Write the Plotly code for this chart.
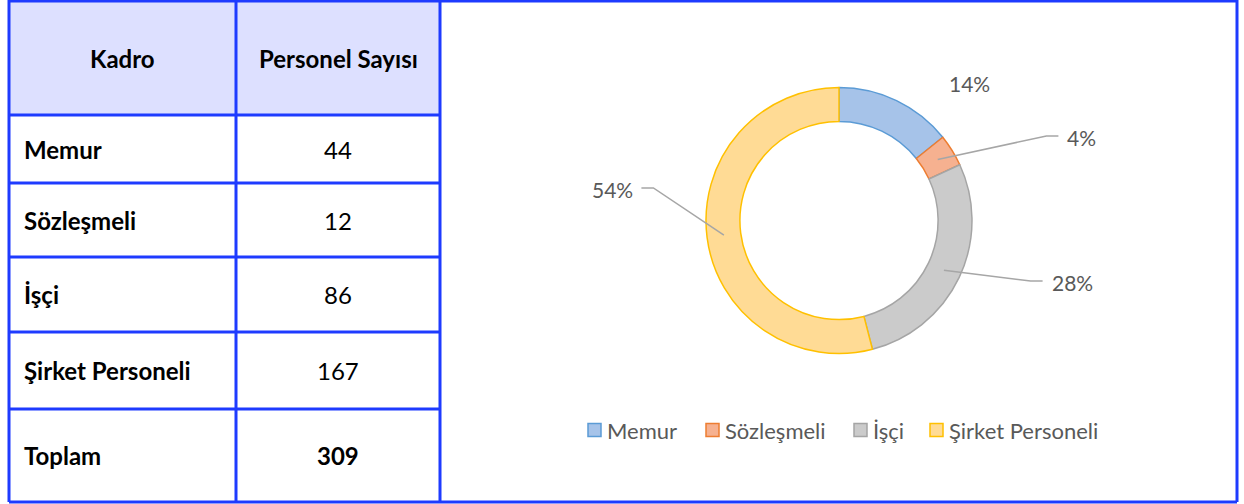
import math
import plotly.graph_objects as go

# ---- data ----
categories = ["Memur", "Sözleşmeli", "İşçi", "Şirket Personeli"]
counts = [44, 12, 86, 167]
header_labels = ["Kadro", "Personel Sayısı"]
total_label = "Toplam"

fill_colors = ["#A6C3E9", "#F6B190", "#CBCBCB", "#FFDB95"]
line_colors = ["#5B9BD5", "#ED7D31", "#A5A5A5", "#FFC000"]

W, H = 1244, 504
BLUE = "#1E3BFF"
FONT = "Lato"
GREY_TXT = "#595959"

fig = go.Figure()

# canvas axes in pixel units
fig.update_layout(
    width=W, height=H, margin=dict(l=0, r=0, t=0, b=0),
    paper_bgcolor="white", plot_bgcolor="white",
    xaxis=dict(range=[0, W], visible=False, fixedrange=True),
    yaxis=dict(range=[H, 0], visible=False, fixedrange=True),
    showlegend=False,
)

shapes = []
annotations = []

# ---- table ----
col_x = [9, 236, 440]
row_y = [1, 115, 183, 257, 332, 409, 502]

shapes.append(dict(type="rect", xref="x", yref="y", x0=col_x[0], x1=col_x[2],
                   y0=row_y[0], y1=row_y[1], fillcolor="#DDE0FF", line=dict(width=0), layer="below"))
for y in row_y[1:-1]:
    shapes.append(dict(type="line", xref="x", yref="y", x0=col_x[0], x1=col_x[2], y0=y, y1=y,
                       line=dict(color=BLUE, width=3)))
for x in col_x:
    shapes.append(dict(type="line", xref="x", yref="y", x0=x, x1=x, y0=0, y1=row_y[-1],
                       line=dict(color=BLUE, width=3)))
# outer frame
shapes.append(dict(type="line", xref="x", yref="y", x0=col_x[0], x1=1237, y0=1, y1=1,
                   line=dict(color=BLUE, width=3)))
shapes.append(dict(type="line", xref="x", yref="y", x0=col_x[0], x1=1237, y0=row_y[-1], y1=row_y[-1],
                   line=dict(color=BLUE, width=3)))
shapes.append(dict(type="line", xref="x", yref="y", x0=1237, x1=1237, y0=0, y1=row_y[-1],
                   line=dict(color=BLUE, width=3)))

def cell_text(text, col, row, bold=False, align="left"):
    yc = (row_y[row] + row_y[row + 1]) / 2
    if align == "left":
        x, xa = col_x[col] + 13, "left"
    else:
        x, xa = (col_x[col] + col_x[col + 1]) / 2, "center"
    t = f"<b>{text}</b>" if bold else text
    annotations.append(dict(xref="x", yref="y", x=x, y=yc, text=t, showarrow=False,
                            xanchor=xa, yanchor="middle",
                            font=dict(family=FONT, size=24, color="black")))

cell_text(header_labels[0], 0, 0, bold=True, align="center")
cell_text(header_labels[1], 1, 0, bold=True, align="center")
for i, (c, v) in enumerate(zip(categories, counts)):
    cell_text(c, 0, i + 1, bold=True, align="left")
    cell_text(str(v), 1, i + 1, bold=False, align="center")
cell_text(total_label, 0, 5, bold=True, align="left")
cell_text(str(sum(counts)), 1, 5, bold=True, align="center")

# ---- donut ----
cx, cy, R = 839, 220.5, 133
hole = 0.745
fig.add_trace(go.Pie(
    labels=categories, values=counts, sort=False, direction="clockwise", rotation=0,
    hole=hole, textinfo="none", hoverinfo="label+percent",
    marker=dict(colors=fill_colors, line=dict(color=line_colors, width=1.5)),
    domain=dict(x=[(cx - R) / W, (cx + R) / W], y=[(H - cy - R) / H, (H - cy + R) / H]),
))

# data labels with leader lines
total = sum(counts)
label_pos = [(969, 83), (1081, 137), (1072, 282), (612, 189)]
use_leader = [False, True, True, True]
r_mid = R * (1 + hole) / 2
cum = 0
for i, v in enumerate(counts):
    frac = v / total
    mid = (cum + frac / 2) * 2 * math.pi
    cum += frac
    txt = f"{round(frac * 100)}%"
    lx, ly = label_pos[i]
    annotations.append(dict(xref="x", yref="y", x=lx, y=ly, text=txt, showarrow=False,
                            xanchor="center", yanchor="middle",
                            font=dict(family=FONT, size=21, color=GREY_TXT)))
    if use_leader[i]:
        sx = cx + r_mid * math.sin(mid)
        sy = cy - r_mid * math.cos(mid)
        side = 1 if lx > cx else -1
        hw = len(txt) * 6.8
        ex = lx - side * (hw + 9)
        ey = ly - 1
        elx = ex - side * 12
        shapes.append(dict(type="path", xref="x", yref="y",
                           path=f"M {sx:.1f},{sy:.1f} L {elx:.1f},{ey:.1f} L {ex:.1f},{ey:.1f}",
                           line=dict(color="#A6A6A6", width=1.5)))

# ---- legend (manual) ----
leg_y = 430
leg_sq_x = [588, 706, 854, 930]
for i, name in enumerate(categories):
    x0 = leg_sq_x[i]
    shapes.append(dict(type="rect", xref="x", yref="y", x0=x0, x1=x0 + 13, y0=leg_y - 6.5, y1=leg_y + 6.5,
                       fillcolor=fill_colors[i], line=dict(color=line_colors[i], width=1.5)))
    annotations.append(dict(xref="x", yref="y", x=x0 + 17, y=leg_y, text=name, showarrow=False,
                            xanchor="left", yanchor="middle",
                            font=dict(family=FONT, size=22, color=GREY_TXT)))

fig.update_layout(shapes=shapes, annotations=annotations)
fig.write_html("out.html")
